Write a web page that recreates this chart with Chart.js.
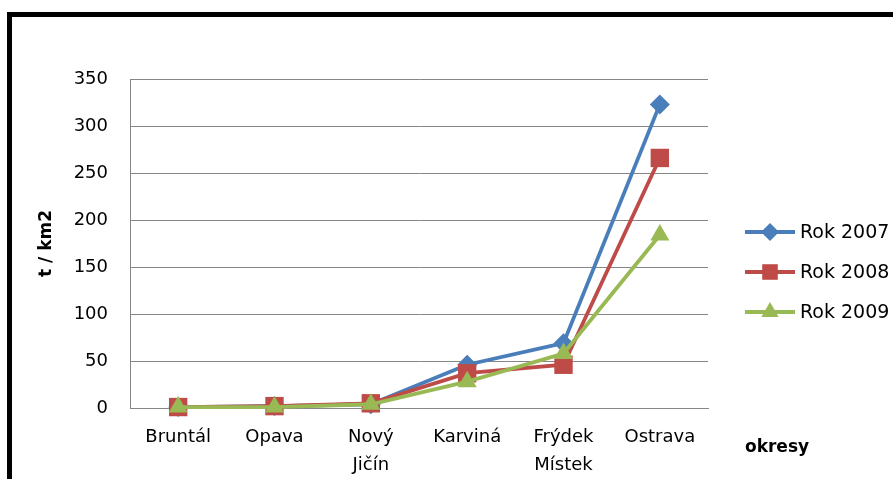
<!DOCTYPE html>
<html>
<head>
<meta charset="utf-8">
<script src="https://cdn.jsdelivr.net/npm/chart.js@4/dist/chart.umd.min.js"></script>
<style>
  html, body { margin: 0; padding: 0; background: #fff; }
  #wrap { position: relative; width: 893px; height: 479px; overflow: hidden; }
  #frame { position: absolute; left: 7px; top: 12px; width: 900px; height: 500px;
           border-top: 5px solid #000; border-left: 5px solid #000; box-sizing: border-box; pointer-events: none; }
  canvas { position: absolute; left: 0; top: 0; }
</style>
</head>
<body>
<div id="wrap">
  <canvas id="c" width="893" height="479"></canvas>
  <div id="frame"></div>
</div>
<script>
const categories = [['Bruntál'], ['Opava'], ['Nový', 'Jičín'], ['Karviná'], ['Frýdek', 'Místek'], ['Ostrava']];
const seriesNames = ['Rok 2007', 'Rok 2008', 'Rok 2009'];
const rok2007 = [1, 2, 4, 46, 69, 323];
const rok2008 = [1, 2, 5, 37, 46, 266];
const rok2009 = [1, 1, 4, 28, 58, 184];
const yTicks = [0, 50, 100, 150, 200, 250, 300, 350];
const yTitle = 't / km2';
const xTitle = 'okresy';

const FONT = 'DejaVu Sans';
const colors = ['#4A7EBB', '#BE4B48', '#98B954'];
const styles = ['rectRot', 'rect', 'triangle'];
const radii = [10, 13, 11];
const legendRadii = [9, 11, 10];

const datasets = [rok2007, rok2008, rok2009].map((d, i) => ({
  label: seriesNames[i],
  data: d,
  borderColor: colors[i],
  backgroundColor: colors[i],
  borderWidth: 3.8,
  pointStyle: styles[i],
  pointRadius: radii[i],
  pointBorderWidth: 0,
  pointHoverRadius: radii[i],
  tension: 0,
  clip: false,
  order: 2 - i
}));

const customLegend = {
  id: 'customLegend',
  afterDraw(chart) {
    const ctx = chart.ctx;
    ctx.save();
    const x0 = 745, x1 = 795, ys = [232, 272, 312];
    datasets.forEach((ds, i) => {
      const y = ys[i];
      ctx.strokeStyle = ds.borderColor;
      ctx.lineWidth = 3.8;
      ctx.beginPath(); ctx.moveTo(x0, y); ctx.lineTo(x1, y); ctx.stroke();
      ctx.fillStyle = ds.borderColor;
      ctx.strokeStyle = ds.borderColor;
      Chart.helpers.drawPoint(ctx, { pointStyle: ds.pointStyle, radius: legendRadii[i], borderWidth: 0 }, (x0 + x1) / 2, y);
      ctx.fillStyle = '#000';
      ctx.font = '19px "' + FONT + '"';
      ctx.textBaseline = 'middle';
      ctx.textAlign = 'left';
      ctx.fillText(ds.label, 800, y + 1);
    });
    ctx.font = 'bold 17px "' + FONT + '"';
    ctx.textAlign = 'left';
    ctx.textBaseline = 'middle';
    ctx.fillText(xTitle, 745, 448);
    ctx.restore();
  }
};

new Chart(document.getElementById('c'), {
  type: 'line',
  data: { labels: categories, datasets },
  options: {
    responsive: false,
    animation: false,
    devicePixelRatio: 1,
    layout: { padding: { left: 30, right: 185, top: 79, bottom: 0 } },
    plugins: { legend: { display: false }, tooltip: { enabled: false } },
    scales: {
      x: {
        offset: true,
        grid: { display: false, drawTicks: false },
        border: { display: true, color: '#868686', width: 1 },
        ticks: { color: '#000', font: { family: FONT, size: 18, lineHeight: 1.55 }, padding: 15, maxRotation: 0, autoSkip: false },
        afterFit(scale) { scale.height = 71; }
      },
      y: {
        min: 0, max: 350,
        afterBuildTicks(scale) { scale.ticks = yTicks.map(v => ({ value: v })); },
        grid: { color: '#868686', lineWidth: 1, drawTicks: false },
        border: { display: true, color: '#868686', width: 1 },
        ticks: { color: '#000', font: { family: FONT, size: 18 }, padding: 22 },
        title: { display: true, text: yTitle, color: '#000', font: { family: FONT, size: 17, weight: 'bold' }, padding: { top: 6, bottom: 0 } },
        afterFit(scale) { scale.width = 100; }
      }
    }
  },
  plugins: [customLegend]
});
</script>
</body>
</html>
